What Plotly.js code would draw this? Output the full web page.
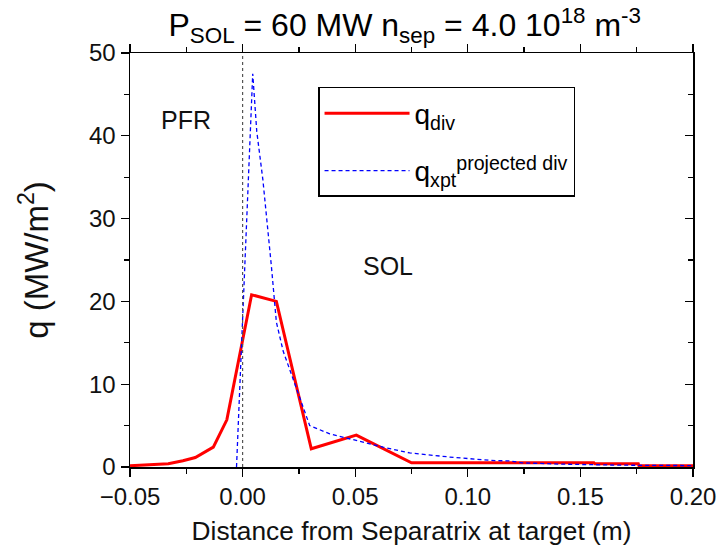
<!DOCTYPE html>
<html>
<head>
<meta charset="utf-8">
<script src="https://cdn.plot.ly/plotly-3.0.1.min.js"></script>
<style>html,body{margin:0;padding:0;background:#fff;}#chart{width:719px;height:554px;}</style>
</head>
<body>
<div id="chart"></div>
<script>
// q_div (red solid)
const divX = [-0.05, -0.038, -0.033, -0.0265, -0.021, -0.013, -0.007, 0.004, 0.015, 0.0305, 0.0505, 0.075, 0.156, 0.1565, 0.1757, 0.176, 0.20];
const divY = [0.15, 0.3, 0.4, 0.75, 1.15, 2.4, 5.7, 20.8, 20.0, 2.2, 3.85, 0.5, 0.5, 0.38, 0.38, 0.15, 0.15];
// q_xpt projected to divertor (blue dashed)
const xptX = [-0.0027, 0.0045, 0.0063, 0.009, 0.0128, 0.015, 0.018, 0.0246, 0.0298, 0.0387, 0.0505, 0.0624, 0.0742, 0.092, 0.11, 0.1187, 0.124, 0.141, 0.168, 0.20];
const xptY = [0, 47.5, 40.5, 34.7, 24.2, 17.5, 14.0, 9.0, 5.0, 4.0, 3.2, 2.4, 1.7, 1.2, 0.8, 0.73, 0.5, 0.35, 0.22, 0.17];
// separatrix marker
const sepX = [0, 0];
const sepY = [0, 50];

const font = "Liberation Sans, Arial, sans-serif";

const traces = [
  {x: sepX, y: sepY, yaxis: 'y2', mode: 'lines', line: {color: '#555', width: 1.2, dash: 'dot'}, showlegend: false, hoverinfo: 'skip'},
  {x: divX, y: divY, mode: 'lines', name: 'q<sub>div</sub>', legendgroup: 'a', line: {color: '#ff0000', width: 3}},
  {x: xptX, y: xptY, mode: 'lines', name: 'q<sub>xpt</sub><sup>projected div</sup>', legendgroup: 'b', line: {color: '#0000ff', width: 1.3, dash: '4px,3px'}}
];

const layout = {
  width: 719, height: 554,
  margin: {l: 130, r: 26, t: 53, b: 87},
  paper_bgcolor: '#fff', plot_bgcolor: '#fff',
  font: {family: font, color: '#000'},
  title: {text: 'P<sub>SOL</sub> = 60 MW n<sub>sep</sub> = 4.0 10<sup>18</sup> m<sup>-3</sup>', font: {size: 32, family: font}, x: 0.488, xref: 'paper', y: 0.955, yanchor: 'middle'},
  xaxis: {
    range: [-0.05, 0.20], dtick: 0.05, tick0: 0, tickformat: '.2f',
    showgrid: false, zeroline: false, showline: true, linecolor: '#000', linewidth: 1.5, mirror: 'ticks',
    ticks: 'outside', ticklen: 8, tickwidth: 1.3, tickcolor: '#000',
    minor: {dtick: 0.025, tick0: 0, ticks: 'outside', ticklen: 5, tickwidth: 1.3, tickcolor: '#000'},
    tickfont: {size: 24, family: font, color: '#111'},
    title: {text: 'Distance from Separatrix at target (m)', font: {size: 26.3, family: font, color: '#111'}, standoff: 12}
  },
  yaxis: {
    range: [0, 50], dtick: 10,
    showgrid: false, zeroline: false, showline: true, linecolor: '#000', linewidth: 1.5, mirror: true,
    ticks: 'outside', ticklen: 8, tickwidth: 1.3, tickcolor: '#000',
    minor: {dtick: 5, ticks: 'outside', ticklen: 5, tickwidth: 1.3, tickcolor: '#000'},
    tickfont: {size: 24, family: font, color: '#111'},
    title: {text: 'q (MW/m<sup>2</sup>)', font: {size: 33, family: font, color: '#111'}, standoff: 30}
  },
  yaxis2: {
    overlaying: 'y', side: 'right', matches: 'y', range: [0, 50], dtick: 10,
    showgrid: false, zeroline: false, showline: true, linecolor: '#000', linewidth: 1.5,
    ticks: 'inside', ticklen: 8, tickwidth: 1.3, tickcolor: '#000', showticklabels: false,
    minor: {dtick: 5, ticks: 'inside', ticklen: 5, tickwidth: 1.3, tickcolor: '#000'}
  },
  showlegend: true,
  legend: {
    x: 0.334, y: 0.918, xanchor: 'left', yanchor: 'top',
    bordercolor: '#000', borderwidth: 1.5, bgcolor: '#fff',
    font: {size: 28, family: font, color: '#000'},
    itemwidth: 85, tracegroupgap: 18, traceorder: 'grouped'
  },
  annotations: [
    {x: -0.025, y: 41.9, xref: 'x', yref: 'y', text: 'PFR', showarrow: false, font: {size: 25, family: font, color: '#111'}},
    {x: 0.0644, y: 24.3, xref: 'x', yref: 'y', text: 'SOL', showarrow: false, font: {size: 25, family: font, color: '#111'}}
  ]
};

Plotly.newPlot('chart', traces, layout, {displayModeBar: false, staticPlot: true});
</script>
</body>
</html>
